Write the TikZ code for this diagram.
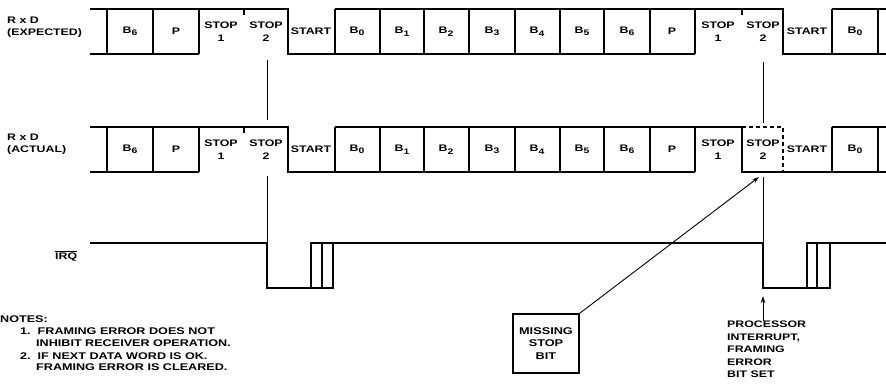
\documentclass[tikz,border=0pt]{standalone}
\usepackage{fontspec}
\setmainfont[FakeStretch=1.3]{Liberation Sans}
\usetikzlibrary{arrows.meta}
\newcommand\Bsub[1]{B\raisebox{-2.5pt}{\fontsize{8}{8}\selectfont #1}}
\begin{document}
\begin{tikzpicture}[x=1pt,y=-1pt,
  wave/.style={line width=1.6pt},
  mark line/.style={line width=0.9pt},
  lbl/.style={font=\bfseries\fontsize{9.5}{12.5}\selectfont, inner sep=0pt, align=center},
  side/.style={font=\bfseries\fontsize{9.5}{12}\selectfont, inner sep=0pt, align=left},
  note/.style={font=\bfseries\fontsize{9.7}{12}\selectfont, inner sep=0pt, anchor=west},
  arr/.style={line width=0.9pt, -{Stealth[length=7pt,width=4.5pt]}}]
\useasboundingbox (0,0) rectangle (886,384);

% ---------- row 1 (expected) ----------
\draw[wave] (90,9) -- (288,9) -- (288,54) -- (695,54);
\draw[wave] (90,54) -- (199,54);
\draw[wave] (335,9) -- (783,9) -- (783,54) -- (886,54);
\draw[wave] (832,9) -- (886,9);
\draw[wave] (244,9) -- (244,15);
\draw[wave] (742,9) -- (742,15);
\foreach \x in {107,153,199,335,380,424,469,515,560,604,650,695,832,878}
  \draw[wave] (\x,9) -- (\x,54);

% ---------- row 2 (actual) ----------
\draw[wave] (90,127) -- (288,127) -- (288,172) -- (695,172);
\draw[wave] (90,172) -- (199,172);
\draw[wave] (335,127) -- (742,127) -- (742,172) -- (886,172);
\draw[wave, dash pattern=on 4pt off 3pt] (742,127) -- (783,127) -- (783,172);
\draw[wave] (832,127) -- (886,127);
\draw[wave] (244,127) -- (244,133);
\foreach \x in {107,153,199,335,380,424,469,515,560,604,650,695,832,878}
  \draw[wave] (\x,127) -- (\x,172);

% ---------- IRQ ----------
\draw[wave] (90,243) -- (267,243) -- (267,288) -- (333,288) -- (333,243) -- (311,243) -- (311,288);
\draw[wave] (322,243) -- (322,288);
\draw[wave] (311,243) -- (763,243) -- (763,288) -- (830,288) -- (830,243) -- (807,243) -- (807,288);
\draw[wave] (817,243) -- (817,288);
\draw[wave] (807,243) -- (886,243);

% ---------- marker lines ----------
\coordinate (ma1) at (267,60);  \coordinate (ma2) at (267,120);
\coordinate (ma3) at (267,176); \coordinate (ma4) at (267,243);
\coordinate (mb1) at (763,62);  \coordinate (mb2) at (763,123);
\coordinate (mb3) at (763,177); \coordinate (mb4) at (763,243);
\draw[mark line] (ma1) -- (ma2);
\draw[mark line] (ma3) -- (ma4);
\draw[mark line] (mb1) -- (mb2);
\draw[mark line] (mb3) -- (mb4);

% ---------- labels row 1 ----------
\node[lbl] (e1) at (130,31.5) {\Bsub6};
\node[lbl] (e2) at (176,31.5) {P};
\node[lbl] (e3) at (221,31.5) {STOP\\1};
\node[lbl] (e4) at (266,31.5) {STOP\\2};
\node[lbl] (e5) at (311,31.5) {START};
\node[lbl] (e6) at (357,31.5) {\Bsub0};
\node[lbl] (e7) at (402,31.5) {\Bsub1};
\node[lbl] (e8) at (446,31.5) {\Bsub2};
\node[lbl] (e9) at (492,31.5) {\Bsub3};
\node[lbl] (e10) at (537,31.5) {\Bsub4};
\node[lbl] (e11) at (582,31.5) {\Bsub5};
\node[lbl] (e12) at (627,31.5) {\Bsub6};
\node[lbl] (e13) at (672,31.5) {P};
\node[lbl] (e14) at (718,31.5) {STOP\\1};
\node[lbl] (e15) at (763,31.5) {STOP\\2};
\node[lbl] (e16) at (807,31.5) {START};
\node[lbl] (e17) at (855,31.5) {\Bsub0};

% ---------- labels row 2 ----------
\node[lbl] (a1) at (130,149.5) {\Bsub6};
\node[lbl] (a2) at (176,149.5) {P};
\node[lbl] (a3) at (221,149.5) {STOP\\1};
\node[lbl] (a4) at (266,149.5) {STOP\\2};
\node[lbl] (a5) at (311,149.5) {START};
\node[lbl] (a6) at (357,149.5) {\Bsub0};
\node[lbl] (a7) at (402,149.5) {\Bsub1};
\node[lbl] (a8) at (446,149.5) {\Bsub2};
\node[lbl] (a9) at (492,149.5) {\Bsub3};
\node[lbl] (a10) at (537,149.5) {\Bsub4};
\node[lbl] (a11) at (582,149.5) {\Bsub5};
\node[lbl] (a12) at (627,149.5) {\Bsub6};
\node[lbl] (a13) at (672,149.5) {P};
\node[lbl] (a14) at (718,149.5) {STOP\\1};
\node[lbl] (a15) at (763,149.5) {STOP\\2};
\node[lbl] (a16) at (807,149.5) {START};
\node[lbl] (a17) at (855,149.5) {\Bsub0};

% ---------- side labels ----------
\node[side, anchor=west] (sx) at (7,27) {R x D\\(EXPECTED)};
\node[side, anchor=west] (sa) at (7,144) {R x D\\(ACTUAL)};
\node[side, anchor=west] (irq) at (55,256) {$\overline{\mbox{IRQ}}$};

% ---------- notes ----------
\node[note] (n0) at (0,319) {NOTES:};
\node[note] (n1) at (20,331) {1.\ \ FRAMING ERROR DOES NOT};
\node[note] (n2) at (36,343) {INHIBIT RECEIVER OPERATION.};
\node[note] (n3) at (20,356) {2.\ \ IF NEXT DATA WORD IS OK.};
\node[note] (n4) at (36,367) {FRAMING ERROR IS CLEARED.};

% ---------- callouts ----------
\node[lbl, draw, line width=1.6pt, minimum width=66pt, minimum height=59pt,
      font=\bfseries\fontsize{9.8}{12.5}\selectfont] (miss) at (546,343.5) {MISSING\\STOP\\BIT};
\coordinate (misstip) at (759,177);
\draw[arr] (miss.north east) -- (misstip);

\node[side, anchor=north west, font=\bfseries\fontsize{9.5}{12.5}\selectfont] (proc) at (727,321)
  {PROCESSOR\\INTERRUPT,\\FRAMING\\ERROR\\BIT SET};
\coordinate (procbase) at (763,321);
\coordinate (proctip) at (763,296);
\draw[arr] (procbase) -- (proctip);
\end{tikzpicture}
\end{document}
